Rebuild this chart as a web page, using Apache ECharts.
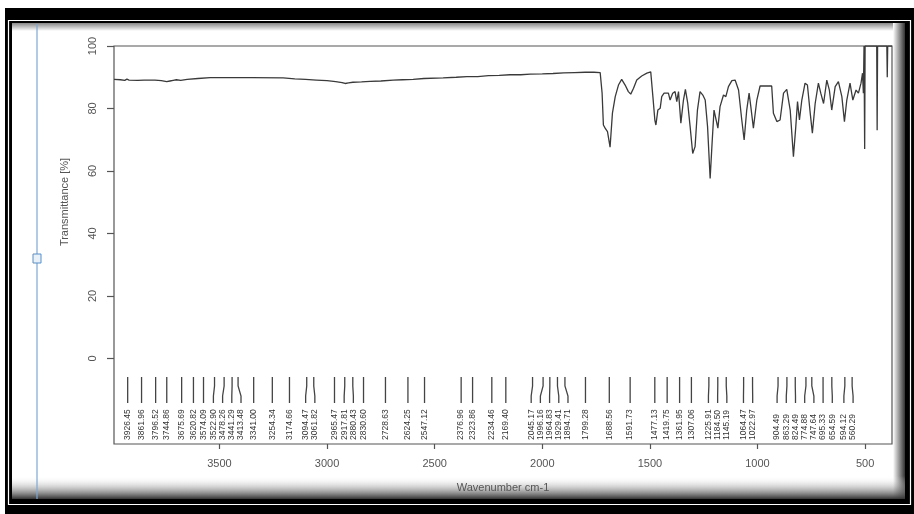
<!DOCTYPE html>
<html><head><meta charset="utf-8">
<script src="https://cdn.jsdelivr.net/npm/echarts@6/dist/echarts.min.js"></script>
<style>html,body{margin:0;padding:0;background:#fff}#c{width:914px;height:514px}</style>
</head><body><div id="c"></div>
<script>
const wavenumbers = [3990,3960,3940,3930,3920,3880,3850,3800,3770,3745,3730,3715,3700,3680,3650,3600,3543,3450,3350,3204,3150,3100,3050,3000,2960,2930,2916,2900,2880,2840,2800,2750,2693,2650,2600,2550,2461,2400,2350,2300,2250,2200,2150,2100,2056,2000,1950,1900,1850,1800,1760,1731,
1722,1716,1708,1697,1685,1674,1661,1646,1631,1615,1600,1589,1576,1561,1538,1514,1496,1486,1477,1472,1463,1452,1445,1434,1425,1414,1406,1394,1383,1375,1367,1356,1344,1335,1324,1313,1301,1290,1279,1267,1254,1243,1232,1220,1211,1202,1192,1184,1174,1158,1147,1135,1119,1104,1088,1073,1062,1050,1039,1031,1019,1003,988,934,926,910,895,879,864,848,833,822,814,805,794,779,768,755,745,732,717,706,693,678,666,655,639,624,608,596,585,570,557,542,531,519,512,508,505,503,502,500,446,444,442,399,397,395,375];
const transmittance = [89.3,89.2,89.0,89.4,89.1,89.0,89.1,89.1,88.9,88.6,88.8,89.0,89.2,89.0,89.3,89.6,89.9,89.9,89.9,89.8,89.5,89.3,89.1,88.9,88.6,88.3,88.0,88.2,88.4,88.5,88.7,88.8,89.1,89.2,89.3,89.6,89.8,90.0,90.2,90.2,90.5,90.6,90.8,90.8,91.0,91.1,91.2,91.4,91.5,91.6,91.6,91.5,
84.9,74.7,73.7,72.6,67.6,78.5,83.8,87.5,89.3,87.5,85.4,84.6,86.5,89.1,90.4,91.3,91.7,83.8,76.3,74.7,79.5,80.1,83.8,84.9,84.3,84.9,82.7,84.9,85.4,82.2,85.4,75.3,82.7,86.1,81.6,74.2,65.6,67.8,79.5,85.4,84.3,82.7,74.2,57.6,68.9,79.5,76.3,73.7,80.6,84.3,83.8,87.0,88.9,89.1,85.9,76.3,69.9,79.5,84.9,80.6,73.7,82.7,87.2,87.2,78.5,75.8,76.3,84.9,86.1,79.5,64.6,74.2,82.2,76.3,82.7,88.1,87.5,78.5,72.1,81.6,88.1,84.9,81.6,89.1,85.9,79.5,87.0,88.6,83.8,75.8,82.7,88.1,82.7,85.9,84.9,88.1,91.3,84.9,100,100,67,100,100,73,100,100,90,100,100];
const peakPositions = [3926.45,3861.96,3796.52,3744.86,3675.69,3620.82,3574.09,3522.90,3478.26,3441.29,3413.48,3341.00,3254.34,3174.66,3094.47,3061.82,2965.47,2917.81,2880.43,2830.60,2728.63,2624.25,2547.12,2376.96,2323.86,2234.46,2169.40,2045.17,1996.16,1964.83,1929.41,1894.71,1799.28,1688.56,1591.73,1477.13,1419.75,1361.95,1307.06,1225.91,1184.50,1145.19,1064.47,1022.97,904.49,863.29,824.49,774.88,747.64,695.33,654.59,594.12,560.29];
const peakLabels = peakPositions.map(v => v.toFixed(2));
const xTicks = [3500,3000,2500,2000,1500,1000,500];
const yTicks = [0,20,40,60,80,100];

const chart = echarts.init(document.getElementById('c'));
let layoutCache = null;
function computeLayout(api) {
  const xs = peakPositions.map(w => api.coord([w, 0])[0]);
  const d = 9.2;
  const clusters = [];
  xs.forEach(x => {
    clusters.push({n: 1, sum: x});
    while (clusters.length > 1) {
      const c = clusters[clusters.length - 1], p = clusters[clusters.length - 2];
      const cStart = c.sum / c.n - (c.n - 1) * d / 2;
      const pEnd = p.sum / p.n + (p.n - 1) * d / 2;
      if (cStart - pEnd < d) { p.n += c.n; p.sum += c.sum; clusters.pop(); } else break;
    }
  });
  const pos = [];
  clusters.forEach(c => { const s = c.sum / c.n - (c.n - 1) * d / 2; for (let k = 0; k < c.n; k++) pos.push(s + k * d); });
  return pos;
}
const axisFont = "'Liberation Sans', Arial, sans-serif";
const option = {
  animation: false,
  backgroundColor: '#fff',
  grid: {left: 114, right: 22, top: 46, bottom: 70, show: true, borderColor: '#555', borderWidth: 1.2, z: 10},
  xAxis: {
    type: 'value', inverse: true, min: 375, max: 3990, z: 10,
    splitLine: {show: false}, axisLine: {show: false, onZero: false},
    axisTick: {show: true, customValues: xTicks, length: 5, lineStyle: {color: '#555', width: 1.2}},
    axisLabel: {customValues: xTicks, formatter: v => String(v), color: '#555', fontSize: 11, fontFamily: axisFont, margin: 14},
    name: 'Wavenumber cm-1', nameLocation: 'middle', nameGap: 38,
    nameTextStyle: {color: '#555', fontSize: 11, fontFamily: axisFont}
  },
  yAxis: {
    type: 'value', min: -27.4, max: 100, z: 10,
    splitLine: {show: false}, axisLine: {show: false, onZero: false},
    axisTick: {show: true, customValues: yTicks, length: 7, lineStyle: {color: '#555', width: 1.2}},
    axisLabel: {customValues: yTicks, formatter: v => String(v), rotate: 90, color: '#555', fontSize: 11, fontFamily: axisFont, margin: 16}
  },
  graphic: [
    {type: 'rect', z: 1, shape: {x: 5, y: 8, width: 909, height: 506}, style: {fill: '#000'}},
    {type: 'rect', z: 1, shape: {x: 8.5, y: 20.5, width: 902, height: 484}, style: {fill: null, stroke: '#fff', lineWidth: 1.2}},
    {type: 'rect', z: 1, shape: {x: 12, y: 23, width: 893, height: 476}, style: {fill: '#fff'}},
    {type: 'rect', z: 1, shape: {x: 12, y: 23, width: 893, height: 8}, style: {fill: new echarts.graphic.LinearGradient(0,0,0,1,[{offset:0,color:'#888'},{offset:1,color:'#fff'}])}},
    {type: 'rect', z: 1, shape: {x: 893, y: 23, width: 12, height: 476}, style: {fill: new echarts.graphic.LinearGradient(0,0,1,0,[{offset:0,color:'#fff'},{offset:1,color:'#333'}])}},
    {type: 'rect', z: 1, shape: {x: 12, y: 476, width: 893, height: 23}, style: {fill: new echarts.graphic.LinearGradient(0,0,0,1,[{offset:0,color:'rgba(255,255,255,0)'},{offset:1,color:'#333'}])}},
    {type: 'line', z: 2, shape: {x1: 37, y1: 24, x2: 37, y2: 499}, style: {stroke: '#7fa7d0', lineWidth: 1.2}},
    {type: 'rect', z: 2, shape: {x: 33, y: 254, width: 8, height: 9}, style: {fill: '#e8f0f8', stroke: '#5b8fc7', lineWidth: 1}},
    {type: 'text', z: 12, x: 65, y: 202, rotation: Math.PI / 2, style: {text: 'Transmittance [%]', fontSize: 11, fontFamily: axisFont, fill: '#555', align: 'center', verticalAlign: 'middle'}}
  ],
  series: [
    {type: 'line', z: 11, data: wavenumbers.map((w, i) => [w, transmittance[i]]), showSymbol: false, symbol: 'none',
     lineStyle: {color: '#3a3a3a', width: 1.3}, clip: true},
    {type: 'custom', z: 11, data: peakPositions.map(w => [w]), encode: {x: 0}, clip: false,
     renderItem: function (params, api) {
       const i = params.dataIndex;
       if (i === 0 || !layoutCache) layoutCache = computeLayout(api);
       const px = api.coord([api.value(0), 0])[0];
       const lx = layoutCache[i];
       const yb = params.coordSys.y + params.coordSys.height;
       return {type: 'group', children: [
         {type: 'polyline', shape: {points: [[px, yb - 67], [px, yb - 58], [lx, yb - 48], [lx, yb - 41]]}, style: {stroke: '#444', lineWidth: 1.3, fill: null}},
         {type: 'text', x: lx, y: yb - 4, rotation: Math.PI / 2, style: {text: peakLabels[i], fontSize: 8.5, fontFamily: axisFont, fill: '#333', align: 'left', verticalAlign: 'middle'}}
       ]};
     }}
  ]
};
chart.setOption(option);
</script></body></html>
